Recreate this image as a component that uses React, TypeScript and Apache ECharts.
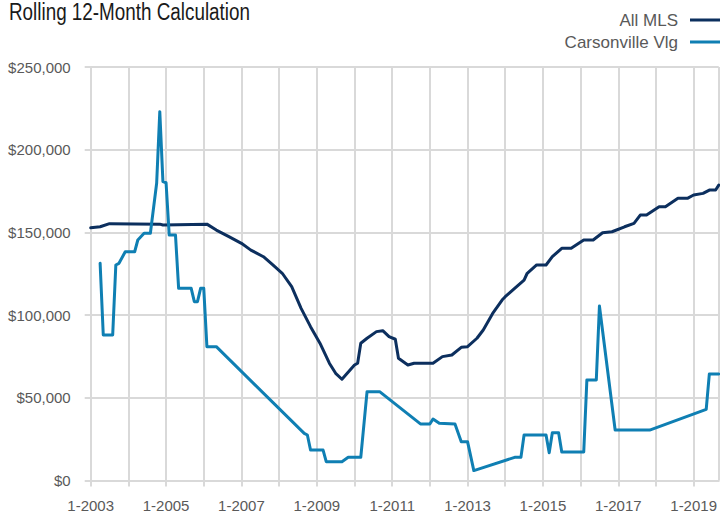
import React, { useEffect, useRef } from "react";
import * as echarts from "echarts";

const title = "Rolling 12-Month Calculation";
const seriesNames = ["All MLS", "Carsonville Vlg"];
const startYear = 2003;
const endDate = "9-2019";

const mlsDates = [
  "1-2003", "4-2003", "7-2003", "11-2004", "12-2004", "2-2006", "5-2006", "9-2006",
  "1-2007", "4-2007", "8-2007", "11-2007", "2-2008", "5-2008", "8-2008", "11-2008",
  "2-2009", "5-2009", "7-2009", "9-2009", "1-2010", "2-2010", "3-2010", "5-2010",
  "8-2010", "10-2010", "12-2010", "2-2011", "3-2011", "6-2011", "8-2011", "2-2012",
  "5-2012", "8-2012", "11-2012", "1-2013", "4-2013", "6-2013", "9-2013", "12-2013",
  "1-2014", "4-2014", "7-2014", "8-2014", "11-2014", "2-2015", "4-2015", "7-2015",
  "10-2015", "2-2016", "5-2016", "8-2016", "11-2016", "3-2017", "6-2017", "8-2017",
  "10-2017", "2-2018", "4-2018", "8-2018", "11-2018", "1-2019", "4-2019", "6-2019",
  "8-2019", "9-2019",
];
const mlsValues = [
  152800, 153400, 155300, 155000, 154500, 155000, 151400, 147400,
  143400, 139300, 135300, 130300, 125300, 117200, 104100, 93000,
  83000, 70900, 64800, 61200, 69800, 70900, 83000, 86000,
  90000, 90600, 87000, 85400, 73900, 69800, 70900, 70900,
  74900, 75900, 80500, 80900, 86000, 91000, 101000, 109100,
  111100, 116200, 121200, 125300, 130300, 130300, 135300, 140400,
  140400, 145400, 145400, 149800, 150400, 153400, 155500, 160500,
  160500, 165500, 165500, 170600, 170600, 172600, 173600, 175600,
  175600, 178600,
];

const carsonDates = [
  "4-2003", "5-2003", "8-2003", "9-2003", "10-2003", "12-2003", "3-2004", "4-2004",
  "6-2004", "8-2004", "10-2004", "11-2004", "12-2004", "1-2005", "2-2005", "4-2005",
  "5-2005", "9-2005", "10-2005", "11-2005", "12-2005", "1-2006", "2-2006", "5-2006",
  "9-2008", "10-2008", "11-2008", "3-2009", "4-2009", "9-2009", "11-2009", "3-2010",
  "5-2010", "9-2010", "10-2011", "1-2012", "2-2012", "4-2012", "9-2012", "11-2012",
  "1-2013", "3-2013", "4-2014", "6-2014", "7-2014", "2-2015", "3-2015", "4-2015",
  "6-2015", "7-2015", "2-2016", "3-2016", "6-2016", "7-2016", "12-2016", "11-2017",
  "5-2019", "6-2019", "9-2019",
];
const carsonValues = [
  131300, 88000, 88000, 130300, 131300, 138300, 138300, 145400,
  149500, 149500, 179700, 223000, 180700, 180000, 148400, 148400,
  116200, 116200, 108100, 108100, 116200, 116200, 80900, 80900,
  28500, 27500, 18400, 18400, 11400, 11400, 14000, 14000,
  53700, 53700, 34200, 34200, 37200, 34600, 34200, 23500,
  23500, 6000, 14000, 14000, 27500, 27500, 16800, 28900,
  28900, 17200, 17200, 60800, 60800, 105500, 30500, 30500,
  43000, 64400, 64400,
];

const yTicks = [0, 50000, 100000, 150000, 200000, 250000];

function monthIndex(d: string): number {
  const [m, y] = d.split("-").map(Number);
  return (y - startYear) * 12 + (m - 1);
}

const FONT = "'Liberation Sans', Arial, sans-serif";
const GRID = "#d9d9d9";

export default function App() {
  const ref = useRef<HTMLDivElement>(null);
  useEffect(() => {
    if (!ref.current) return;
    const chart = echarts.init(ref.current, null, { renderer: "svg" });
    const mls = mlsDates.map((d, i) => [monthIndex(d), mlsValues[i]]);
    const carson = carsonDates.map((d, i) => [monthIndex(d), carsonValues[i]]);
    chart.setOption({
      animation: false,
      backgroundColor: "#ffffff",
      graphic: [
        {
          type: "text",
          x: 9,
          y: 0,
          scaleX: 0.82,
          style: {
            text: title,
            fontFamily: FONT,
            fontSize: 23,
            fill: "#1a1a1a",
            verticalAlign: "top",
            align: "left",
          },
        },
      ],
      legend: {
        data: seriesNames,
        orient: "vertical",
        right: -6,
        top: 10,
        padding: 0,
        align: "right",
        icon: "rect",
        itemWidth: 36,
        itemHeight: 3,
        itemGap: 2,
        textStyle: { fontFamily: FONT, fontSize: 17, lineHeight: 20, color: "#595959", padding: [0, 7, 0, 0] },
      },
      grid: { left: 90.7, right: 1.2, top: 67, bottom: 34.5 },
      xAxis: {
        type: "value",
        min: 0,
        max: monthIndex(endDate),
        interval: 12,
        axisLine: { show: true, lineStyle: { color: GRID, width: 2 } },
        axisTick: { show: true, length: 6, lineStyle: { color: GRID, width: 2 } },
        splitLine: { show: true, lineStyle: { color: GRID, width: 2 } },
        axisLabel: {
          margin: 17,
          fontFamily: FONT,
          fontSize: 15,
          color: "#595959",
          showMaxLabel: false,
          formatter: (v: number) => (v % 24 === 0 ? `1-${startYear + v / 12}` : ""),
        },
      },
      yAxis: {
        type: "value",
        min: yTicks[0],
        max: yTicks[yTicks.length - 1],
        interval: yTicks[1] - yTicks[0],
        axisLine: { show: true, lineStyle: { color: GRID, width: 2 } },
        axisTick: { show: true, length: 6, lineStyle: { color: GRID, width: 2 } },
        splitLine: { show: true, lineStyle: { color: GRID, width: 2 } },
        axisLabel: {
          margin: 20,
          fontFamily: FONT,
          fontSize: 15,
          color: "#595959",
          formatter: (v: number) => "$" + v.toLocaleString("en-US"),
        },
      },
      series: [
        {
          name: seriesNames[0],
          type: "line",
          data: mls,
          showSymbol: false,
          symbol: "none",
          color: "#0c2f5e",
          lineStyle: { width: 3, color: "#0c2f5e", join: "round", cap: "round" },
        },
        {
          name: seriesNames[1],
          type: "line",
          data: carson,
          showSymbol: false,
          symbol: "none",
          color: "#0f7fb3",
          lineStyle: { width: 3, color: "#0f7fb3", join: "round", cap: "round" },
        },
      ],
    });
    return () => chart.dispose();
  }, []);
  return (
    <div
      ref={ref}
      style={{ position: "fixed", left: 0, top: 0, width: 720, height: 515, background: "#fff" }}
    />
  );
}
